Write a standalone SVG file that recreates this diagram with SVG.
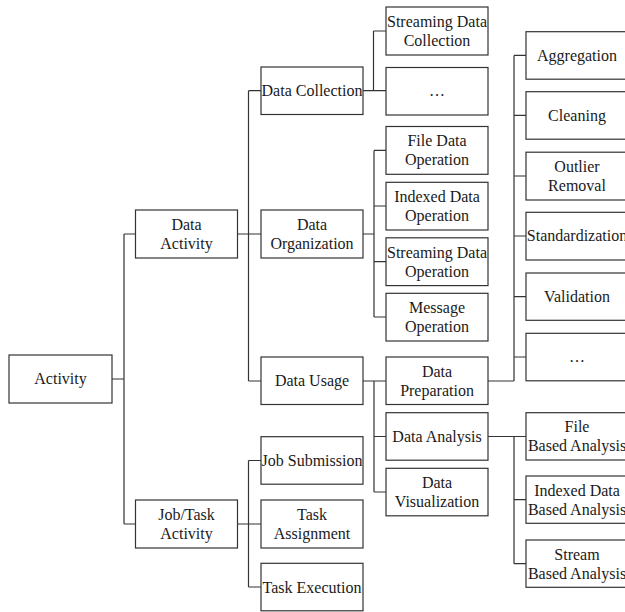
<svg xmlns="http://www.w3.org/2000/svg" width="625" height="612" viewBox="0 0 625 612">
  <style>
    .box rect { fill: #ffffff; stroke: #333333; stroke-width: 1.2; }
    .box text { font-size: 16px; fill: #1a1a1a; text-anchor: middle; }
    #connectors path { fill: none; stroke: #333333; stroke-width: 1.2; }
  </style>

  <!-- tree connectors -->
  <g id="connectors">
    <!-- Activity -->
    <path d="M112 379 H124 M124 234 V524 M124 234 H135.5 M124 524 H135.5"/>
    <!-- Data Activity -->
    <path d="M237.5 234 H248.5 M248.5 90.7 V381 M248.5 90.7 H261 M248.5 234 H261 M248.5 381 H261"/>
    <!-- Job/Task Activity -->
    <path d="M237.5 524 H248.5 M248.5 460.5 V587 M248.5 460.5 H261 M248.5 524 H261 M248.5 587 H261"/>
    <!-- Data Collection -->
    <path d="M363 90.7 H386 M373.5 31 V90.7 M373.5 31 H386"/>
    <!-- Data Organization -->
    <path d="M363 234 H374 M374 150.4 V317 M374 150.4 H386 M374 206 H386 M374 261.7 H386 M374 317 H386"/>
    <!-- Data Usage -->
    <path d="M363 381 H386 M374 381 V492 M374 436.5 H386 M374 492 H386"/>
    <!-- Data Preparation -->
    <path d="M488 381 H514 M514 55.4 V381 M514 55.4 H526 M514 115.4 H526 M514 176 H526 M514 236 H526 M514 296.7 H526 M514 357 H526"/>
    <!-- Data Analysis -->
    <path d="M488 436.5 H526 M514 436.5 V563.7 M514 499.7 H526 M514 563.7 H526"/>
  </g>

  <g font-family="Liberation Serif, Times New Roman, serif">
  <!-- level 0 -->
  <g id="activity" class="box"><rect x="9" y="355" width="103" height="48"/><text x="60.5" y="384.3">Activity</text></g>

  <!-- level 1 -->
  <g id="data-activity" class="box"><rect x="135.5" y="210" width="102" height="48"/><text x="186.5" y="229.8">Data</text><text x="186.5" y="248.8">Activity</text></g>
  <g id="job-task-activity" class="box"><rect x="135.5" y="500" width="102" height="48"/><text x="186.5" y="519.8">Job/Task</text><text x="186.5" y="538.8">Activity</text></g>

  <!-- level 2 -->
  <g id="data-collection" class="box"><rect x="261" y="67" width="102" height="47.5"/><text x="312" y="96">Data Collection</text></g>
  <g id="data-organization" class="box"><rect x="261" y="210" width="102" height="48"/><text x="312" y="229.8">Data</text><text x="312" y="248.8">Organization</text></g>
  <g id="data-usage" class="box"><rect x="261" y="357" width="102" height="47.5"/><text x="312" y="386.3">Data Usage</text></g>
  <g id="job-submission" class="box"><rect x="261" y="436.7" width="102" height="47.5"/><text x="312" y="466">Job Submission</text></g>
  <g id="task-assignment" class="box"><rect x="261" y="500" width="102" height="48"/><text x="312" y="519.8">Task</text><text x="312" y="538.8">Assignment</text></g>
  <g id="task-execution" class="box"><rect x="261" y="563.3" width="102" height="47.5"/><text x="312" y="592.5">Task Execution</text></g>

  <!-- level 3 -->
  <g id="streaming-data-collection" class="box"><rect x="386" y="7" width="102" height="48"/><text x="437" y="26.8">Streaming Data</text><text x="437" y="45.8">Collection</text></g>
  <g id="collection-more" class="box"><rect x="386" y="67.5" width="102" height="47.5"/><text x="437" y="96.3">…</text></g>
  <g id="file-data-operation" class="box"><rect x="386" y="126.5" width="102" height="47.8"/><text x="437" y="146.2">File Data</text><text x="437" y="165.2">Operation</text></g>
  <g id="indexed-data-operation" class="box"><rect x="386" y="182.3" width="102" height="47.7"/><text x="437" y="201.9">Indexed Data</text><text x="437" y="220.9">Operation</text></g>
  <g id="streaming-data-operation" class="box"><rect x="386" y="237.8" width="102" height="47.8"/><text x="437" y="257.5">Streaming Data</text><text x="437" y="276.5">Operation</text></g>
  <g id="message-operation" class="box"><rect x="386" y="293.3" width="102" height="47.7"/><text x="437" y="312.9">Message</text><text x="437" y="331.9">Operation</text></g>
  <g id="data-preparation" class="box"><rect x="386" y="357" width="102" height="47.5"/><text x="437" y="376.8">Data</text><text x="437" y="395.8">Preparation</text></g>
  <g id="data-analysis" class="box"><rect x="386" y="412.7" width="102" height="47.5"/><text x="437" y="441.8">Data Analysis</text></g>
  <g id="data-visualization" class="box"><rect x="386" y="468.3" width="102" height="47.5"/><text x="437" y="487.9">Data</text><text x="437" y="506.9">Visualization</text></g>

  <!-- level 4: preparation steps -->
  <g id="aggregation" class="box"><rect x="526" y="31.7" width="102" height="47.5"/><text x="577" y="60.8">Aggregation</text></g>
  <g id="cleaning" class="box"><rect x="526" y="91.7" width="102" height="47.5"/><text x="577" y="120.8">Cleaning</text></g>
  <g id="outlier-removal" class="box"><rect x="526" y="152.2" width="102" height="47.8"/><text x="577" y="171.9">Outlier</text><text x="577" y="190.9">Removal</text></g>
  <g id="standardization" class="box"><rect x="526" y="212.3" width="102" height="47.7"/><text x="577" y="241.4">Standardization</text></g>
  <g id="validation" class="box"><rect x="526" y="273" width="102" height="47.3"/><text x="577" y="302">Validation</text></g>
  <g id="preparation-more" class="box"><rect x="526" y="333.3" width="102" height="47.5"/><text x="577" y="362.3">…</text></g>

  <!-- level 4: analysis kinds -->
  <g id="file-based-analysis" class="box"><rect x="526" y="412.7" width="102" height="47.3"/><text x="577" y="432.2">File</text><text x="577" y="451.2">Based Analysis</text></g>
  <g id="indexed-data-based-analysis" class="box"><rect x="526" y="476" width="102" height="47.3"/><text x="577" y="495.5">Indexed Data</text><text x="577" y="514.5">Based Analysis</text></g>
  <g id="stream-based-analysis" class="box"><rect x="526" y="540" width="102" height="47.3"/><text x="577" y="559.5">Stream</text><text x="577" y="578.5">Based Analysis</text></g>
  </g>
</svg>
